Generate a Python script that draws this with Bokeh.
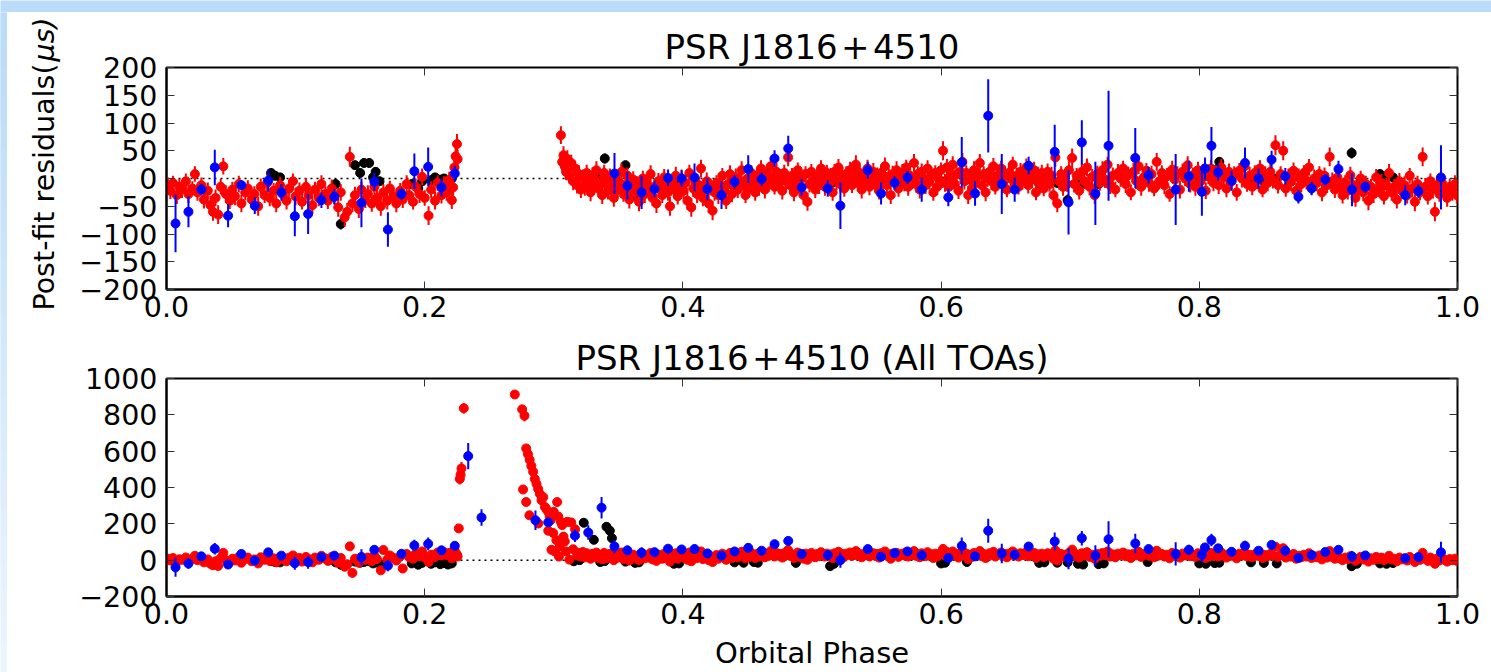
import numpy as np
from bokeh.plotting import figure
from bokeh.layouts import column, row
from bokeh.models import Range1d, FixedTicker, LinearAxis, Span, ColumnDataSource
from bokeh.core.properties import value
from bokeh.embed import file_html
from bokeh.resources import INLINE

FONT = "DejaVu Sans"

# ---------------- data ----------------
TITLE_TOP = "PSR J1816\u200a+\u200a4510"
TITLE_ALL = "PSR J1816\u200a+\u200a4510 (All TOAs)"
YLABEL_MAIN = "Post-fit residuals("
YLABEL_UNIT = "\u03bcs)"
XLABEL = "Orbital Phase"

X_TICKS = [0.0, 0.2, 0.4, 0.6, 0.8, 1.0]
X_TICK_LABELS = ["0.0", "0.2", "0.4", "0.6", "0.8", "1.0"]
Y_TICKS_TOP = [-200, -150, -100, -50, 0, 50, 100, 150, 200]
Y_TICK_LABELS_TOP = ["\u2212200", "\u2212150", "\u2212100", "\u221250", "0", "50", "100", "150", "200"]
Y_TICKS_ALL = [-200, 0, 200, 400, 600, 800, 1000]
Y_TICK_LABELS_ALL = ["\u2212200", "0", "200", "400", "600", "800", "1000"]

# red TOAs (used in both fits): phase, residual (top fit), uncertainty, residual (all-TOA fit)
red_phase = [
    0.001, 0.003, 0.005, 0.008, 0.010, 0.012, 0.015, 0.017, 0.020, 0.022,
    0.024, 0.027, 0.029, 0.032, 0.034, 0.036, 0.038, 0.040, 0.042, 0.044,
    0.046, 0.049, 0.051, 0.053, 0.056, 0.058, 0.061, 0.063, 0.066, 0.068,
    0.071, 0.073, 0.076, 0.078, 0.080, 0.083, 0.085, 0.088, 0.090, 0.093,
    0.095, 0.098, 0.100, 0.103, 0.105, 0.108, 0.110, 0.113, 0.115, 0.118,
    0.120, 0.123, 0.125, 0.128, 0.130, 0.133, 0.135, 0.138, 0.140, 0.142,
    0.144, 0.146, 0.149, 0.151, 0.154, 0.156, 0.159, 0.161, 0.163, 0.166,
    0.168, 0.171, 0.173, 0.176, 0.178, 0.181, 0.183, 0.186, 0.188, 0.191,
    0.193, 0.196, 0.198, 0.200, 0.203, 0.205, 0.208, 0.210, 0.213, 0.215,
    0.217, 0.219, 0.221, 0.222, 0.223, 0.224, 0.225, 0.2255,
    0.3055, 0.3065, 0.3075, 0.3085, 0.3095, 0.3105, 0.3120, 0.3135, 0.3150, 0.3165,
    0.3180, 0.3195, 0.3210, 0.3225, 0.3240, 0.3255, 0.3270, 0.3285, 0.3300, 0.3315,
    0.3330, 0.3345, 0.3360, 0.3375, 0.3390, 0.3405, 0.3420, 0.3435, 0.3450, 0.3465,
    0.3480, 0.3495, 0.3510, 0.3525, 0.3540, 0.3555, 0.3570, 0.3585, 0.3600, 0.3615,
    0.3630, 0.3645, 0.3660, 0.3675, 0.3690, 0.3705, 0.3720, 0.3735, 0.3750, 0.3765,
    0.3780, 0.3795, 0.3810, 0.3825, 0.3840, 0.3855, 0.3870, 0.3885, 0.3900, 0.3915,
    0.3930, 0.3945, 0.3960, 0.3975, 0.3990, 0.4005, 0.4020, 0.4035, 0.4050, 0.4065,
    0.4080, 0.4095, 0.4110, 0.4125, 0.4140, 0.4155, 0.4170, 0.4185, 0.4200, 0.4215,
    0.4230, 0.4245, 0.4260, 0.4275, 0.4290, 0.4305, 0.4320, 0.4335, 0.4350, 0.4365,
    0.4380, 0.4395, 0.4410, 0.4425, 0.4440, 0.4455, 0.4470, 0.4485, 0.4500, 0.4515,
    0.4530, 0.4545, 0.4560, 0.4575, 0.4590, 0.4605, 0.4620, 0.4635, 0.4650, 0.4665,
    0.4680, 0.4695, 0.4710, 0.4725, 0.4740, 0.4755, 0.4770, 0.4785, 0.4800, 0.4815,
    0.4830, 0.4845, 0.4860, 0.4875, 0.4890, 0.4905, 0.4920, 0.4935, 0.4950, 0.4965,
    0.4980, 0.4995, 0.5010, 0.5025, 0.5040, 0.5055, 0.5070, 0.5085, 0.5100, 0.5115,
    0.5130, 0.5145, 0.5160, 0.5175, 0.5190, 0.5205, 0.5220, 0.5235, 0.5250, 0.5265,
    0.5280, 0.5295, 0.5310, 0.5325, 0.5340, 0.5355, 0.5370, 0.5385, 0.5400, 0.5415,
    0.5430, 0.5445, 0.5460, 0.5475, 0.5490, 0.5505, 0.5520, 0.5535, 0.5550, 0.5565,
    0.5580, 0.5595, 0.5610, 0.5625, 0.5640, 0.5655, 0.5670, 0.5685, 0.5700, 0.5715,
    0.5730, 0.5745, 0.5760, 0.5775, 0.5790, 0.5805, 0.5820, 0.5835, 0.5850, 0.5865,
    0.5880, 0.5895, 0.5910, 0.5925, 0.5940, 0.5955, 0.5970, 0.5985, 0.6000, 0.6015,
    0.6030, 0.6045, 0.6060, 0.6075, 0.6090, 0.6105, 0.6120, 0.6135, 0.6150, 0.6165,
    0.6180, 0.6195, 0.6210, 0.6225, 0.6240, 0.6255, 0.6270, 0.6285, 0.6300, 0.6315,
    0.6330, 0.6345, 0.6360, 0.6375, 0.6390, 0.6405, 0.6420, 0.6435, 0.6450, 0.6465,
    0.6480, 0.6495, 0.6510, 0.6525, 0.6540, 0.6555, 0.6570, 0.6585, 0.6600, 0.6615,
    0.6630, 0.6645, 0.6660, 0.6675, 0.6690, 0.6705, 0.6720, 0.6735, 0.6750, 0.6765,
    0.6780, 0.6795, 0.6810, 0.6825, 0.6840, 0.6855, 0.6870, 0.6885, 0.6900, 0.6915,
    0.6930, 0.6945, 0.6960, 0.6975, 0.6990, 0.7015,
    0.703, 0.705, 0.707, 0.709, 0.711, 0.713, 0.715, 0.717, 0.719, 0.721,
    0.723, 0.725, 0.727, 0.729, 0.731, 0.733, 0.735, 0.737, 0.739, 0.741,
    0.743, 0.745, 0.747, 0.749, 0.751, 0.753, 0.755, 0.757, 0.759, 0.761,
    0.763, 0.765, 0.767, 0.769, 0.771, 0.773, 0.775, 0.777, 0.779, 0.781,
    0.783, 0.785, 0.787, 0.789, 0.791, 0.793, 0.795, 0.797, 0.799, 0.801,
    0.803, 0.805, 0.807, 0.809, 0.811, 0.813, 0.815, 0.817, 0.819, 0.821,
    0.823, 0.825, 0.827, 0.829, 0.831, 0.833, 0.835, 0.837, 0.839, 0.841,
    0.843, 0.845, 0.847, 0.849, 0.851, 0.853, 0.855, 0.857, 0.859, 0.861,
    0.863, 0.865, 0.867, 0.869, 0.871, 0.873, 0.875, 0.877, 0.879, 0.881,
    0.883, 0.885, 0.887, 0.889, 0.891, 0.893, 0.895, 0.897, 0.899, 0.901,
    0.903, 0.905, 0.907, 0.909, 0.911, 0.913, 0.915, 0.917, 0.919, 0.921,
    0.923, 0.925, 0.927, 0.929, 0.931, 0.933, 0.935, 0.937, 0.939, 0.941,
    0.943, 0.945, 0.947, 0.949, 0.951, 0.953, 0.955, 0.957, 0.959, 0.961,
    0.963, 0.965, 0.967, 0.969, 0.971, 0.973, 0.975, 0.977, 0.979, 0.981,
    0.9825, 0.984, 0.986, 0.988, 0.990, 0.992, 0.994, 0.996, 0.998, 0.9995,
]
red_res_top = [
    -12, -22, -8, -30, -15, -20, -5, -28, -18, 8,
    -25, -12, -38, -22, -48, -60, -35, -65, -15, 22,
    -28, -40, -20, -32, -10, -45, -25, -18, -38, -28,
    -50, -15, -30, -8, -35, -22, -45, -12, -28, -40,
    -18, -5, -32, -22, -42, -15, -30, -48, -20, -35,
    -10, -28, -40, -18, -32, -52, -25, -70, -60, 39,
    -45, -30, -55, -20, -38, -28, -45, -15, -35, -50,
    -25, -40, -18, -32, -45, -22, -38, -10, -30, -42,
    -15, -28, 3, -35, -67, -20, -40, -8, -30, -12,
    -25, -2, -39, -16, 20, 40, 62, 35,
    78, 30, 42, 22, 12, 35, 5, 28, -5, 18,
    -12, 8, -20, 2, -15, 10, -8, -25, 5, -12,
    15, -18, -5, -30, 10, -10, -22, 3, -15, -35,
    0, -20, -8, 12, -28, -12, 5, -38, -18, -2,
    -25, -10, -42, -15, 0, -28, -8, -22, 8, -35,
    -15, -45, -5, -20, -30, 2, -12, -25, -50, -10,
    -18, 5, -32, -15, 0, -22, -8, -40, 10, -52,
    -18, -5, -28, -12, 18, -35, -20, -5, -45, -15,
    -58, -25, -8, -30, -12, 5, -22, -40, -10, 8,
    -28, -15, 2, -20, -5, 15, -12, -30, 0, -18,
    10, -8, -25, 5, -15, 18, -5, -20, 8, -10,
    22, -2, -15, 12, -8, 3, -22, 10, -5, 38,
    -12, 5, -25, -8, 15, -18, 0, -30, 8, -42,
    -10, 12, -5, -20, 5, -12, 18, -2, -15, 10,
    -8, 3, -25, 12, -5, 20, -10, 5, -18, 8,
    -3, 15, -12, 0, 25, -8, 10, -20, 5, -5,
    18, -15, 2, 12, -10, 6, -22, 10, -4, 22,
    -12, 4, -30, 8, -6, 15, -18, 2, 10, -8,
    20, -15, 5, -5, 28, -10, 8, -20, 12, 0,
    -12, 18, -6, 5, -25, 10, -15, -2, 15, 50,
    -8, 20, -15, 5, 25, -10, 8, -22, 12, 30,
    -5, 10, -30, 2, -18, 15, -8, 5, 28, -12,
    8, -25, 0, 12, -5, 22, -15, 5, -2, 18,
    -10, 8, -20, 10, 0, 25, -8, 5, -15, 12,
    -5, 2, 20, -12, 8, -2, 15, -25, 5, -8,
    10, -18, 3, 12, -10, 5, -30, 38, -45, -5,
    8, -15, 2, -10, 15, 37,
    -10, 5, -22, 12, -5, 20, -15, 3, -30, 8,
    -8, 15, -2, 25, -12, 5, -20, 10, 0, 18,
    -10, 6, -25, 12, -4, 22, -15, 2, 14, -8,
    8, -18, 30, -5, 10, -12, 4, -28, 16, -2,
    8, -20, 12, 0, 24, -10, 6, -15, 15, -5,
    10, -22, 4, 18, -8, 8, -12, 20, 2, -18,
    12, -5, 6, -25, 14, 0, 22, -10, 5, -15,
    10, -3, 18, -20, 6, -8, 12, -2, 60, -12,
    8, 50, -18, 4, -6, 14, -22, 2, -10, 10,
    -4, 20, -15, 0, -8, 8, -25, 5, -12, 39,
    -5, -20, 2, -15, -30, -8, -22, 6, -12, -35,
    -18, 0, -25, -10, -40, -15, -28, 2, -20, -8,
    -32, -12, 10, -25, -15, -38, -5, -22, -12, -30,
    5, -18, -42, -10, -25, 39, -15, -32, -5, -20,
    -60, -12, -28, -8, -22, -35, -15, -25, -10, -30,
]
red_err = [
    14, 15, 13, 16, 14, 15, 14, 16, 13, 14,
    15, 14, 16, 15, 17, 16, 15, 17, 14, 15,
    16, 15, 14, 16, 15, 16, 14, 15, 16, 14,
    17, 15, 14, 16, 15, 14, 16, 15, 14, 16,
    15, 14, 16, 15, 14, 16, 15, 16, 14, 15,
    16, 14, 15, 16, 14, 17, 15, 17, 16, 18,
    16, 15, 16, 14, 15, 16, 15, 14, 16, 17,
    15, 16, 14, 15, 16, 14, 15, 16, 15, 14,
    15, 16, 15, 14, 17, 15, 16, 14, 15, 16,
    15, 14, 16, 15, 16, 17, 18, 17,
    16, 15, 16, 14, 15, 16, 14, 15, 16, 14,
    15, 16, 15, 14, 16, 15, 14, 16, 15, 14,
    16, 15, 14, 16, 15, 14, 16, 15, 14, 16,
    15, 14, 16, 15, 14, 16, 15, 16, 14, 15,
    16, 14, 17, 15, 14, 16, 15, 14, 16, 15,
    14, 17, 15, 16, 14, 15, 16, 15, 17, 14,
    15, 16, 15, 14, 16, 15, 14, 16, 15, 17,
    15, 14, 16, 15, 16, 15, 14, 16, 17, 15,
    17, 15, 14, 16, 15, 14, 16, 15, 14, 16,
    15, 14, 16, 15, 14, 16, 15, 14, 16, 15,
    14, 16, 15, 14, 16, 15, 14, 16, 15, 14,
    16, 15, 14, 16, 15, 14, 16, 15, 14, 16,
    15, 14, 16, 15, 14, 16, 15, 17, 14, 16,
    15, 14, 16, 15, 14, 16, 15, 14, 16, 15,
    14, 16, 15, 14, 16, 15, 14, 16, 15, 14,
    16, 15, 14, 16, 17, 15, 14, 16, 15, 14,
    16, 15, 14, 16, 15, 14, 16, 15, 14, 16,
    15, 14, 16, 15, 14, 16, 15, 14, 16, 15,
    14, 16, 15, 14, 16, 15, 14, 16, 15, 14,
    16, 15, 14, 16, 15, 14, 15, 15, 14, 17,
    16, 15, 14, 16, 15, 14, 16, 15, 14, 16,
    15, 14, 16, 15, 14, 16, 15, 14, 16, 15,
    14, 16, 15, 14, 16, 15, 14, 16, 15, 14,
    16, 15, 14, 16, 15, 14, 16, 15, 14, 16,
    15, 14, 16, 15, 14, 16, 15, 14, 16, 16,
    15, 14, 16, 15, 14, 16, 15, 17, 16, 15,
    14, 16, 15, 14, 16, 17,
    15, 14, 16, 15, 14, 16, 15, 14, 16, 15,
    14, 16, 15, 14, 16, 15, 14, 16, 15, 14,
    16, 15, 14, 16, 15, 14, 16, 15, 14, 16,
    15, 14, 16, 15, 14, 16, 15, 14, 16, 15,
    14, 16, 15, 14, 16, 15, 14, 16, 15, 14,
    16, 15, 14, 16, 15, 14, 16, 15, 14, 16,
    15, 14, 16, 15, 14, 16, 15, 14, 16, 15,
    14, 16, 15, 14, 16, 15, 14, 16, 18, 15,
    14, 17, 15, 14, 16, 15, 14, 16, 15, 14,
    16, 15, 14, 16, 15, 14, 16, 15, 14, 17,
    16, 15, 14, 16, 15, 14, 16, 15, 14, 16,
    15, 14, 16, 15, 17, 14, 16, 15, 14, 16,
    15, 14, 16, 15, 14, 16, 15, 14, 16, 15,
    14, 16, 17, 15, 14, 17, 16, 15, 14, 16,
    17, 15, 14, 16, 15, 16, 14, 15, 16, 15,
]
red_res_all = [
    8, -2, 12, -8, 5, 2, 15, -5, 6, 24,
    0, 10, -12, 4, -20, -28, -6, -32, 12, 40,
    0, -10, 8, -2, 18, -14, 6, 14, -6, 4,
    -18, 16, 2, 22, -4, 10, -12, 18, 6, -6,
    14, 26, 2, 12, -8, 18, 6, -12, 14, 2,
    24, 10, -4, 18, 6, -14, 12, -36, -24, 76,
    -70, 8, -14, 18, 2, 14, -6, 24, 6, -56,
    56, 4, 26, 12, -2, 20, -46, 34, 16, 8,
    36, 22, 48, 14, -10, 30, 18, 42, 26, 44,
    28, 40, 10, 34, 60, 40, 30, 20,
    211, 193, 130, 103, 48, 211, 3, 208, 60, 170,
    25, 40, 20, 45, 15, 38, 22, 8, 35, 18,
    42, 12, 28, 5, 40, 20, 10, 35, 18, 0,
    30, 14, 25, 42, 6, 22, 36, -2, 16, 30,
    10, 24, 0, 20, 34, 10, 26, 14, 40, 4,
    22, -4, 30, 16, 8, 36, 24, 12, -8, 26,
    18, 38, 8, 22, 34, 14, 28, 2, 42, -6,
    18, 30, 12, 24, 48, 6, 16, 30, 0, 22,
    -10, 12, 28, 8, 24, 36, 14, 2, 26, 40,
    12, 22, 34, 16, 30, 46, 24, 10, 32, 18,
    40, 26, 12, 34, 20, 46, 28, 16, 36, 24,
    50, 30, 20, 40, 26, 34, 14, 38, 28, 56,
    24, 32, 12, 26, 42, 18, 30, 8, 36, 2,
    24, 40, 28, 16, 34, 22, 44, 30, 20, 36,
    26, 32, 12, 38, 28, 46, 24, 34, 18, 36,
    30, 42, 24, 30, 50, 26, 36, 16, 32, 28,
    44, 20, 32, 38, 24, 34, 14, 38, 28, 48,
    24, 32, 8, 36, 28, 40, 18, 30, 36, 26,
    44, 20, 32, 28, 50, 24, 34, 16, 38, 30,
    22, 44, 28, 32, 12, 36, 20, 30, 40, 62,
    26, 46, 20, 32, 48, 24, 34, 14, 38, 52,
    28, 36, 6, 30, 18, 40, 26, 32, 50, 22,
    34, 12, 30, 38, 28, 46, 20, 32, 30, 42,
    24, 34, 16, 36, 30, 48, 26, 32, 20, 38,
    28, 30, 44, 22, 34, 30, 40, 12, 32, 26,
    36, 18, 30, 38, 24, 32, 8, 54, -2, 28,
    34, 20, 30, 24, 40, 58,
    24, 32, 14, 38, 26, 44, 18, 30, 8, 34,
    24, 40, 28, 48, 20, 32, 16, 36, 28, 42,
    22, 32, 12, 36, 26, 46, 18, 30, 38, 24,
    32, 16, 52, 26, 34, 20, 30, 10, 40, 28,
    32, 14, 36, 26, 46, 22, 30, 18, 38, 24,
    34, 12, 28, 40, 22, 30, 20, 42, 28, 14,
    34, 24, 30, 10, 36, 26, 44, 20, 30, 16,
    32, 24, 40, 12, 28, 22, 34, 24, 74, 18,
    30, 66, 14, 26, 20, 34, 8, 24, 16, 30,
    20, 38, 12, 22, 16, 26, 4, 22, 14, 50,
    18, 8, 20, 10, 0, 14, 6, 22, 12, -4,
    8, 18, 4, 12, -8, 10, 2, 18, 6, 14,
    0, 10, 24, 4, 8, -6, 14, 4, 10, -2,
    18, 6, -10, 12, 2, 40, 8, -4, 14, 4,
    -20, 8, -2, 12, 2, -8, 6, 0, 8, -4,
]

# red TOAs inside the eclipse (only in the all-TOA fit)
red_ecl_phase = [
    0.2264, 0.2272, 0.2278, 0.2285, 0.2303, 0.2698, 0.2755, 0.2762, 0.2773, 0.2786,
    0.2786, 0.2800, 0.2811, 0.2813, 0.2826, 0.2840, 0.2853, 0.2866, 0.2879, 0.2880,
    0.2892, 0.2905, 0.2918, 0.2931, 0.2944, 0.2957, 0.2957, 0.2968, 0.2975, 0.2982,
    0.2995, 0.3000, 0.3008, 0.3020, 0.3026, 0.3035, 0.3040, 0.3045,
]
red_ecl_res = [
    175, 447, 470, 505, 836, 912, 830, 389, 795, 615,
    320, 583, 247, 552, 519, 487, 447, 420, 392, 202,
    365, 330, 347, 293, 280, 266, 162, 240, 220, 57,
    150, 266, 48, 110, 320, 240, 20, 75,
]
red_ecl_err = [
    20, 30, 30, 35, 28, 22, 25, 18, 30, 18,
    15, 16, 15, 16, 15, 16, 15, 16, 15, 14,
    16, 15, 16, 15, 16, 15, 14, 16, 15, 14,
    16, 15, 14, 16, 15, 16, 14, 15,
]

# blue TOAs
blue_phase = [
    0.007, 0.017, 0.027, 0.0374, 0.0477, 0.058, 0.0684, 0.0788, 0.089, 0.0994,
    0.1097, 0.120, 0.130, 0.151, 0.161, 0.1715, 0.182, 0.192, 0.2027, 0.213,
    0.2233,
    0.347, 0.357, 0.368, 0.378, 0.3885, 0.399, 0.409, 0.419, 0.4299, 0.440,
    0.4506, 0.461, 0.471, 0.4816, 0.492, 0.5122, 0.522, 0.5432, 0.5535, 0.564,
    0.574, 0.585, 0.6056, 0.616, 0.6263, 0.6365, 0.647, 0.657, 0.6678, 0.688,
    0.6987, 0.709, 0.7195, 0.7297, 0.7504, 0.7607, 0.7817, 0.7919, 0.802, 0.8044,
    0.8094, 0.8146, 0.825, 0.8354, 0.8459, 0.856, 0.8666, 0.8768, 0.887, 0.8976,
    0.9078, 0.9183, 0.9286, 0.9595, 0.9697, 0.9872,
]
blue_res_top = [
    -81, -60, -20, 20, -67, -12, -49, -4, -25, -68,
    -64, -39, -33, -44, -6, -92, -28, 13, 21, -16,
    9,
    9, -13, -25, -19, 1, 0, 2, -19, -30, -6,
    17, -1, 36, 54, -16, -18, -49, 15, -27, -8,
    2, -20, -34, 29, -27, 113, -10, -20, 23, 48,
    -43, 65, -27, 59, 37, 6, -20, 4, -24, 18,
    59, 11, -4, 28, 0, 34, 4, -33, -18, -2,
    17, -20, -15, -30, -23, 2,
]
blue_err = [
    52, 28, 10, 32, 21, 8, 15, 20, 15, 36,
    36, 14, 14, 44, 16, 31, 10, 32, 35, 16,
    14,
    37, 25, 30, 15, 15, 15, 25, 20, 25, 12,
    25, 12, 15, 23, 15, 15, 42, 15, 20, 12,
    12, 22, 16, 46, 22, 66, 54, 22, 16, 49,
    58, 40, 57, 99, 54, 15, 64, 28, 43, 20,
    34, 15, 18, 28, 18, 16, 15, 12, 12, 10,
    15, 30, 10, 18, 12, 58,
]
blue_res_all = [
    -39, -19, 21, 63, -24, 34, -2, 43, 25, -17,
    -11, 17, 25, 16, 57, -30, 35, 81, 90, 54,
    79,
    75, 54, 41, 44, 63, 59, 61, 37, 25, 48,
    68, 52, 88, 106, 34, 28, 0, 61, 19, 39,
    48, 27, 12, 79, 21, 162, 37, 30, 75, 103,
    8, 121, 25, 115, 92, 61, 34, 57, 30, 70,
    111, 65, 46, 79, 52, 84, 52, 12, 28, 45,
    57, 21, 26, 10, 17, 43,
]
blue_ecl_phase = [0.2337, 0.2440, 0.2858, 0.2957, 0.3164, 0.3267, 0.3370]
blue_ecl_res = [573, 235, 220, 208, 135, 152, 289]
blue_ecl_err = [72, 45, 54, 25, 35, 40, 59]

# black TOAs
black_phase = [
    0.081, 0.084, 0.088, 0.131, 0.135, 0.146, 0.150, 0.153, 0.157, 0.160,
    0.162, 0.165, 0.190, 0.195, 0.198, 0.205, 0.208, 0.212, 0.215, 0.218,
    0.221, 0.336, 0.3395, 0.3555, 0.363, 0.366, 0.393, 0.397, 0.440, 0.447,
    0.455, 0.458, 0.4875, 0.514, 0.517, 0.600, 0.603, 0.620, 0.676, 0.680,
    0.690, 0.698, 0.706, 0.710, 0.722, 0.726, 0.760, 0.800, 0.805, 0.812,
    0.8155, 0.840, 0.850, 0.860, 0.918, 0.922, 0.940, 0.945, 0.950,
]
black_res_top = [
    10, 5, 2, -10, -82, 24, 10, 28, 28, 2,
    12, -5, -10, -18, -5, -3, 2, -2, 0, -6,
    0, 0, 36, 24, -30, -35, -15, -10, -5, -8,
    -12, -10, -5, -10, -6, -8, -5, -2, -10, -6,
    -8, -39, -12, -8, -10, -5, 0, -5, 5, 15,
    30, -2, -5, 0, 46, -12, 8, 5, 2,
]
black_err = [
    8, 8, 8, 9, 10, 8, 8, 8, 8, 8,
    8, 8, 8, 8, 8, 8, 8, 8, 8, 8,
    8, 8, 9, 8, 9, 9, 8, 8, 8, 8,
    8, 8, 8, 8, 8, 8, 8, 8, 8, 8,
    8, 10, 8, 8, 8, 8, 8, 8, 8, 8,
    8, 8, 8, 8, 10, 8, 8, 8, 8,
]
black_res_all = [
    -5, -10, -12, -12, -25, -8, -14, -10, -6, -18,
    -12, -20, -18, -25, -15, -20, -12, -22, -16, -24,
    -18, -10, -5, -8, -15, -12, -20, -18, -12, -14,
    -10, -14, -15, -33, -20, -18, -14, -10, -15, -12,
    -14, -12, -20, -24, -22, -18, -10, -18, -20, -16,
    -14, -12, -15, -18, -33, -20, -18, -20, -16,
]
black_ecl_phase = [0.3155, 0.3200, 0.3232, 0.3310, 0.3408, 0.3434, 0.3450]
black_ecl_res = [-6, 0, 206, 112, 184, 162, 121]
black_ecl_err = [10, 10, 10, 10, 10, 10, 10]

# ---------------- styling ----------------
BAND = "#badbfa"
TICK_FS = "28.5px"


def style_panel(p, yticks, ylabels):
    p.outline_line_color = "black"
    p.outline_line_width = 2
    p.xgrid.visible = False
    p.ygrid.visible = False
    p.background_fill_color = "white"
    p.border_fill_color = "white"
    p.title.text_font = FONT
    p.title.text_font_size = "34px"
    p.title.text_font_style = "normal"
    p.title.text_color = "black"
    p.title.align = "center"
    p.title.standoff = 2

    xa = p.below[0]
    xa.ticker = FixedTicker(ticks=X_TICKS)
    xa.major_label_overrides = {t: l for t, l in zip(X_TICKS, X_TICK_LABELS)}
    ya = p.left[0]
    ya.ticker = FixedTicker(ticks=yticks)
    ya.major_label_overrides = {t: l for t, l in zip(yticks, ylabels)}
    for ax in (xa, ya):
        ax.major_label_text_font = FONT
        ax.major_label_text_font_size = TICK_FS
        ax.major_label_text_color = "black"
        ax.major_tick_in = 8
        ax.major_tick_out = 0
        ax.major_tick_line_color = "#333333"
        ax.major_tick_line_width = 1
        ax.minor_tick_line_color = None
        ax.axis_line_color = "black"
        ax.axis_line_width = 2
    xa.major_label_standoff = 6
    ya.major_label_standoff = 9

    extra_x = LinearAxis(ticker=FixedTicker(ticks=X_TICKS))
    extra_y = LinearAxis(ticker=FixedTicker(ticks=yticks))
    for ax in (extra_x, extra_y):
        ax.major_label_text_font_size = "0px"
        ax.major_label_text_color = None
        ax.major_label_standoff = 0
        ax.major_tick_in = 8
        ax.major_tick_out = 0
        ax.major_tick_line_color = "#333333"
        ax.minor_tick_line_color = None
        ax.axis_line_color = None
    p.add_layout(extra_x, "above")
    p.add_layout(extra_y, "right")

    p.add_layout(Span(location=0, dimension="width", line_color="black",
                      line_dash="2 4", line_width=1.5, level="underlay"))
    return xa, ya


def draw(p, phase, res, err, color):
    ph = np.asarray(phase, dtype=float)
    r = np.asarray(res, dtype=float)
    e = np.asarray(err, dtype=float)
    src = ColumnDataSource(dict(x=ph, y=r, lo=r - e, hi=r + e))
    p.segment(x0="x", y0="lo", x1="x", y1="hi", source=src, line_color=color, line_width=2)
    p.scatter(x="x", y="y", source=src, size=9, marker="circle",
              fill_color=color, line_color=color)


top = figure(width=1425, height=318, x_range=Range1d(0, 1), y_range=Range1d(-200, 200),
             output_backend="svg", toolbar_location=None, title=TITLE_TOP,
             min_border_left=100, min_border_right=34, min_border_top=55, min_border_bottom=41)
style_panel(top, Y_TICKS_TOP, Y_TICK_LABELS_TOP)
draw(top, black_phase, black_res_top, black_err, "black")
draw(top, red_phase, red_res_top, red_err, "red")
draw(top, blue_phase, blue_res_top, blue_err, "blue")

bot = figure(width=1425, height=342, x_range=Range1d(0, 1), y_range=Range1d(-200, 1000),
             output_backend="svg", toolbar_location=None, title=TITLE_ALL,
             min_border_left=100, min_border_right=34, min_border_top=48, min_border_bottom=73)
bx, by = style_panel(bot, Y_TICKS_ALL, Y_TICK_LABELS_ALL)
bx.axis_label = XLABEL
bx.axis_label_text_font = FONT
bx.axis_label_text_font_size = "29px"
bx.axis_label_text_font_style = "normal"
bx.axis_label_text_color = "black"
bx.axis_label_standoff = 9
draw(bot, black_phase + black_ecl_phase, black_res_all + black_ecl_res, black_err + black_ecl_err, "black")
draw(bot, red_phase + red_ecl_phase, red_res_all + red_ecl_res, red_err + red_ecl_err, "red")
draw(bot, blue_phase + blue_ecl_phase, blue_res_all + blue_ecl_res, blue_err + blue_ecl_err, "blue")

# left strip with the shared y label
left = figure(width=66, height=660, x_range=Range1d(0, 66), y_range=Range1d(672, 12),
              output_backend="svg", toolbar_location=None, min_border=0,
              x_axis_type=None, y_axis_type=None)
left.outline_line_color = None
left.xgrid.visible = False
left.ygrid.visible = False
left.background_fill_color = "white"
left.border_fill_color = "white"
n = 24
edges = np.linspace(12, 672, n + 1)
c0 = np.array([186, 219, 250])
c1 = np.array([236, 245, 254])
cols = ["#%02x%02x%02x" % tuple(int(v) for v in (c0 + (c1 - c0) * i / (n - 1))) for i in range(n)]
left.quad(left=0, right=6, top=edges[:-1], bottom=edges[1:], fill_color=cols, line_color=cols)
left.text(x=[44], y=[310], text=[YLABEL_MAIN], angle=np.pi / 2, text_font=value(FONT),
          text_font_size="28.5px", text_align="left", text_baseline="alphabetic", text_color="black")
left.text(x=[44], y=[61], text=[YLABEL_UNIT], angle=np.pi / 2, text_font=value(FONT),
          text_font_size="28.5px", text_font_style="italic", text_align="left",
          text_baseline="alphabetic", text_color="black")

band = figure(width=1491, height=12, x_range=Range1d(0, 1), y_range=Range1d(0, 1),
              output_backend="svg", toolbar_location=None, min_border=0,
              x_axis_type=None, y_axis_type=None)
band.outline_line_color = None
band.xgrid.visible = False
band.ygrid.visible = False
band.background_fill_color = BAND
band.border_fill_color = BAND

layout = column(band, row(left, column(top, bot)))
open("out.html", "w").write(file_html(layout, INLINE))
